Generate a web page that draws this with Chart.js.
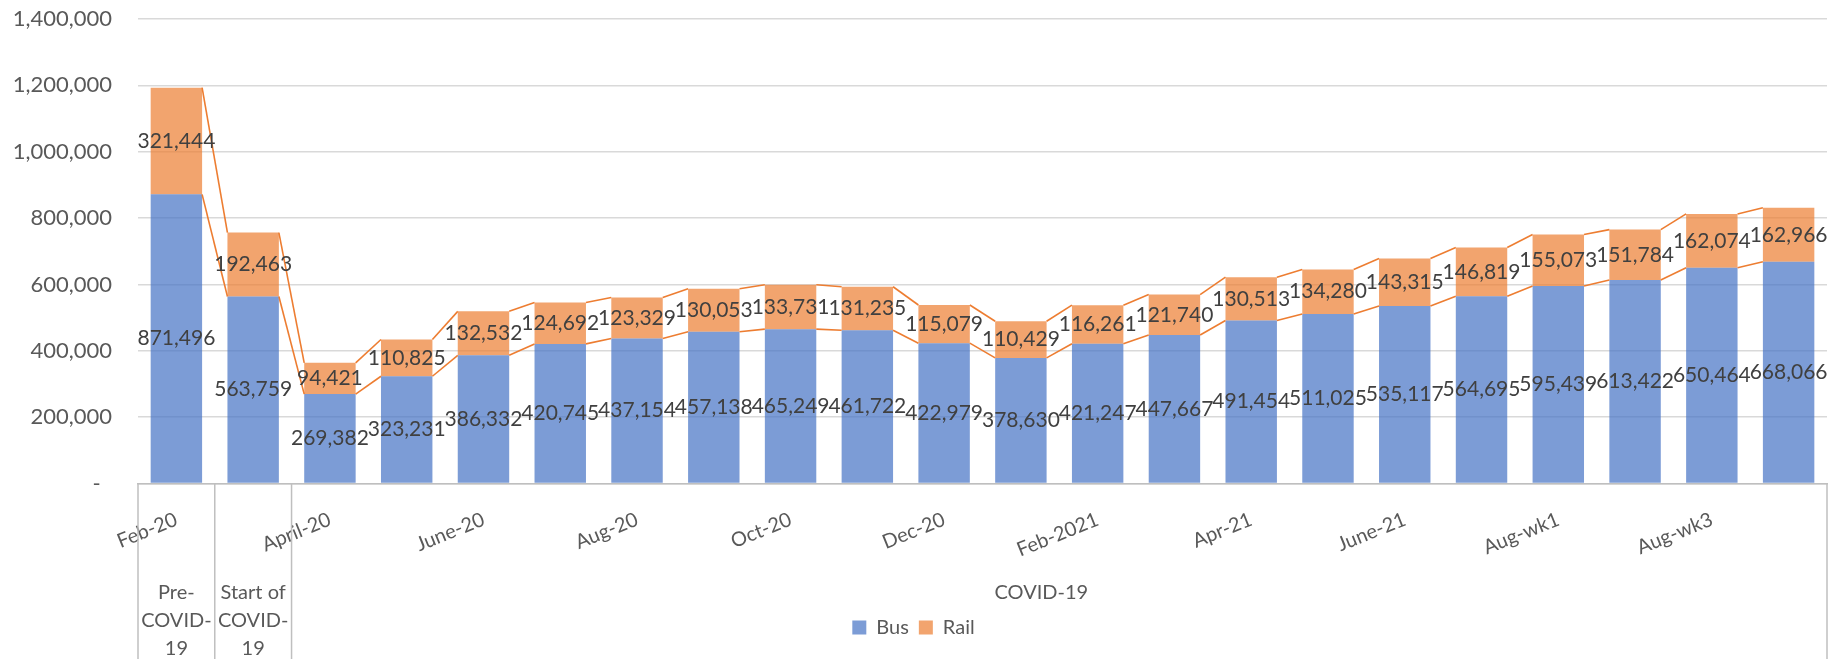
<!DOCTYPE html>
<html>
<head>
<meta charset="utf-8">
<script src="https://cdn.jsdelivr.net/npm/chart.js@4/dist/chart.umd.min.js"></script>
<style>
  html, body { margin: 0; padding: 0; background: #fff; }
</style>
</head>
<body>
<canvas id="chart" width="1835" height="659"></canvas>
<script>
var months = ['Feb-20', 'Mar-20', 'April-20', 'May-20', 'June-20', 'July-20', 'Aug-20', 'Sep-20',
  'Oct-20', 'Nov-20', 'Dec-20', 'Jan-2021', 'Feb-2021', 'Mar-21', 'Apr-21', 'May-21',
  'June-21', 'July-21', 'Aug-wk1', 'Aug-wk2', 'Aug-wk3', 'Aug-wk4'];
var bus = [871496, 563759, 269382, 323231, 386332, 420745, 437154, 457138, 465249, 461722, 422979,
  378630, 421247, 447667, 491454, 511025, 535117, 564695, 595439, 613422, 650464, 668066];
var rail = [321444, 192463, 94421, 110825, 132532, 124692, 123329, 130053, 133731, 131235, 115079,
  110429, 116261, 121740, 130513, 134280, 143315, 146819, 155073, 151784, 162074, 162966];
// second level of the category axis
var groupLines = [['Pre-', 'COVID-', '19'], ['Start of', 'COVID-', '19'], ['COVID-19']];
var groupSpans = [1, 1, 20];

var orange = '#ED7D31';
var FONT = 'Lato';

// series lines + centred value labels, drawn like excel does
var excelBits = {
  id: 'excelBits',
  afterDatasetsDraw: function(chart) {
    var ctx = chart.ctx;
    ctx.save();
    ctx.strokeStyle = orange;
    ctx.lineWidth = 1.6;
    chart.data.datasets.forEach(function(ds, di) {
      var pts = chart.getDatasetMeta(di).data;
      for (var i = 0; i < pts.length - 1; i++) {
        ctx.beginPath();
        ctx.moveTo(pts[i].x + pts[i].width / 2, pts[i].y);
        ctx.lineTo(pts[i + 1].x - pts[i + 1].width / 2, pts[i + 1].y);
        ctx.stroke();
      }
    });
    ctx.font = '21px ' + FONT;
    ctx.fillStyle = '#404040';
    ctx.textAlign = 'center';
    ctx.textBaseline = 'middle';
    chart.data.datasets.forEach(function(ds, di) {
      var pts = chart.getDatasetMeta(di).data;
      pts.forEach(function(p, i) {
        ctx.fillText(ds.data[i].toLocaleString('en-US'), p.x, (p.y + p.base) / 2);
      });
    });
    ctx.restore();
  },
  afterDraw: function(chart) {
    var ctx = chart.ctx;
    var xs = chart.scales.x;
    var area = chart.chartArea;
    var bottom = chart.height;
    ctx.save();
    ctx.strokeStyle = '#BFBFBF';
    ctx.lineWidth = 1.5;
    ctx.font = '20px ' + FONT;
    ctx.fillStyle = '#595959';
    ctx.textAlign = 'center';
    ctx.textBaseline = 'middle';
    var start = 0;
    var left = area.left;
    var edges = [left];
    groupSpans.forEach(function(span, g) {
      var end = start + span - 1;
      var right = end < months.length - 1
        ? (xs.getPixelForValue(end) + xs.getPixelForValue(end + 1)) / 2
        : area.right;
      edges.push(right);
      var cx = g === groupSpans.length - 1 ? (left + right) / 2 - 18 : (left + right) / 2;
      groupLines[g].forEach(function(line, k) {
        ctx.fillText(line, cx, area.bottom + 109 + k * 28);
      });
      left = right;
      start = end + 1;
    });
    edges.forEach(function(x) {
      ctx.beginPath();
      ctx.moveTo(x, area.bottom);
      ctx.lineTo(x, bottom);
      ctx.stroke();
    });
    ctx.restore();
  }
};

var ctx = document.getElementById('chart');
var chart = new Chart(ctx, {
  type: 'bar',
  data: {
    labels: months,
    datasets: [
      { label: 'Bus', data: bus, backgroundColor: 'rgba(68,114,196,0.7)', borderWidth: 0 },
      { label: 'Rail', data: rail, backgroundColor: 'rgba(237,125,49,0.7)', borderWidth: 0 }
    ]
  },
  options: {
    responsive: false,
    animation: false,
    layout: { padding: { left: 0, right: 8, top: 19, bottom: 11.5 } },
    datasets: { bar: { barPercentage: 0.67, categoryPercentage: 1 } },
    plugins: {
      tooltip: { enabled: false },
      legend: {
        position: 'bottom',
        labels: {
          font: { family: FONT, size: 20 },
          color: '#595959',
          boxWidth: 14,
          boxHeight: 14,
          padding: 10
        }
      }
    },
    scales: {
      x: {
        stacked: true,
        afterFit: function(scale) { scale.height = 124; },
        grid: { display: false },
        border: { color: '#BFBFBF', width: 1.5 },
        ticks: {
          autoSkip: false,
          minRotation: 22,
          maxRotation: 22,
          padding: 16,
          color: '#595959',
          font: { family: FONT, size: 20 },
          callback: function(v, i) { return i % 2 === 0 ? months[i] : ''; }
        }
      },
      y: {
        stacked: true,
        min: 0,
        max: 1400000,
        afterFit: function(scale) {
          scale.width = 138;
          // tick padding would otherwise push the plot top down
          scale.paddingTop = 0;
          scale.paddingBottom = 0;
        },
        grid: { color: '#D9D9D9', lineWidth: 1.5, drawTicks: false },
        border: { display: false },
        ticks: {
          stepSize: 200000,
          padding: 26,
          color: '#595959',
          font: { family: FONT, size: 22 },
          callback: function(v) { return v === 0 ? '-  ' : v.toLocaleString('en-US'); }
        }
      }
    }
  },
  plugins: [excelBits]
});
</script>
</body>
</html>
